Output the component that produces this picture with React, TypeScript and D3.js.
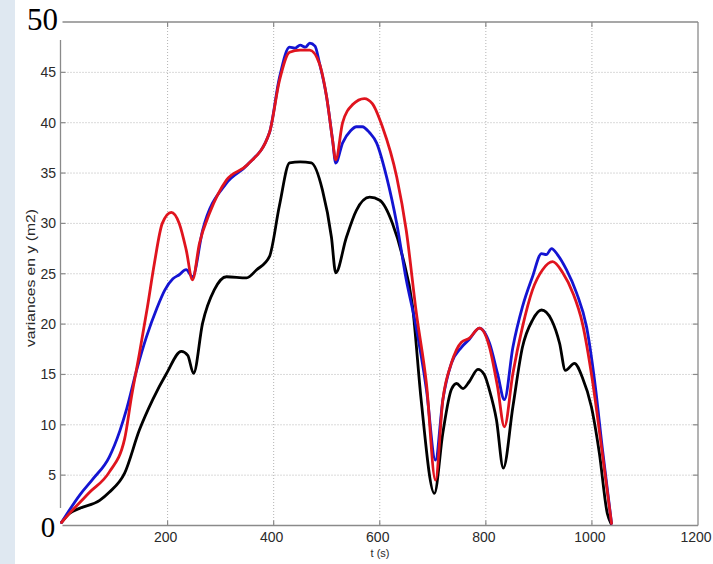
import React from "react";
import * as d3 from "d3";

const blackT = [0, 15, 34, 72, 90, 119, 147, 172, 198, 226, 238, 249, 266, 288, 311, 349, 368, 392, 411, 430, 450, 471, 492, 509, 517, 537, 556, 581, 600, 624, 643, 662, 678, 703, 719, 735, 745, 757, 769, 785, 797, 807, 820, 833, 851, 869, 888, 905, 924, 939, 950, 967, 982, 999, 1014, 1029, 1036];
const blackV = [0.3, 1.2, 1.7, 2.5, 3.3, 5.2, 9.5, 12.5, 15.1, 17.3, 16.9, 15.1, 20.1, 23.4, 24.7, 24.6, 25.4, 26.7, 31.8, 36.0, 36.1, 36.0, 33.3, 28.6, 25.1, 28.6, 31.3, 32.6, 32.3, 30.0, 26.7, 21.7, 12.5, 3.2, 9.2, 13.5, 14.1, 13.6, 14.3, 15.5, 15.0, 13.4, 10.5, 5.7, 11.8, 17.7, 20.4, 21.4, 20.4, 18.1, 15.4, 16.1, 14.7, 11.8, 7.2, 1.2, 0.2];

const redT = [0, 15, 53, 90, 119, 132, 147, 162, 175, 190, 207, 222, 235, 247, 260, 279, 311, 350, 392, 411, 430, 450, 468, 486, 500, 511, 517, 530, 549, 571, 586, 605, 632, 650, 669, 688, 705, 719, 735, 754, 769, 788, 807, 822, 835, 851, 869, 888, 907, 926, 945, 964, 982, 1001, 1018, 1037];
const redV = [0.3, 1.2, 3.3, 5.3, 8.6, 12.8, 17.1, 21.7, 26.0, 30.0, 31.1, 30.0, 27.4, 24.4, 28.0, 31.0, 34.3, 35.8, 39.0, 44.2, 47.0, 47.2, 47.2, 45.9, 42.5, 38.3, 36.3, 40.0, 41.8, 42.4, 41.9, 39.6, 34.6, 29.3, 21.1, 14.1, 4.5, 12.5, 16.1, 18.2, 18.6, 19.6, 17.7, 13.8, 9.8, 15.1, 19.7, 23.4, 25.4, 26.2, 25.1, 23.1, 20.1, 14.4, 7.8, 0.2];

const blueT = [0, 34, 59, 90, 110, 123, 141, 160, 180, 195, 210, 222, 235, 247, 266, 311, 350, 392, 411, 430, 440, 450, 460, 468, 478, 486, 500, 511, 517, 530, 545, 556, 567, 581, 594, 613, 632, 650, 666, 688, 705, 719, 735, 754, 769, 788, 807, 822, 835, 851, 869, 888, 905, 914, 924, 935, 952, 971, 990, 1005, 1020, 1037];
const blueV = [0.3, 3.0, 4.6, 6.8, 9.4, 11.6, 15.3, 18.7, 21.6, 23.4, 24.5, 24.9, 25.4, 24.7, 29.3, 34.0, 35.8, 39.0, 44.5, 47.5, 47.4, 47.7, 47.5, 47.9, 47.6, 46.0, 42.5, 38.3, 36.0, 38.0, 39.2, 39.6, 39.6, 39.0, 38.0, 34.6, 30.0, 24.4, 20.4, 13.5, 6.5, 12.5, 16.1, 17.7, 18.5, 19.6, 18.1, 15.1, 12.5, 17.7, 21.7, 24.7, 27.0, 26.9, 27.5, 26.9, 25.4, 23.1, 19.7, 14.4, 7.5, 0.2];

const xTicks = [200, 400, 600, 800, 1000, 1200];
const yTicks = [5, 10, 15, 20, 25, 30, 35, 40, 45];
const xLabel = "t (s)";
const yLabel = "variances en y (m2)";

const W = 713;
const H = 564;

export default function App() {
  const x = d3.scaleLinear().domain([0, 1200]).range([61.5, 698]);
  const y = d3.scaleLinear().domain([0, 50]).range([525.5, 22]);
  const line = (ts: number[], vs: number[]) =>
    d3
      .line<number>()
      .x((_, i) => x(ts[i]))
      .y((v) => y(v))
      .curve(d3.curveMonotoneX)(vs) || "";

  const axisColor = "#8a8a8a";
  const gridColor = "#b4b4b4";
  const font = "'Liberation Sans', Arial, Helvetica, sans-serif";
  const series = [
    { t: blackT, v: blackV, c: "#000000" },
    { t: blueT, v: blueV, c: "#1414d2" },
    { t: redT, v: redV, c: "#e0141e" },
  ];

  return (
    <svg
      width={W}
      height={H}
      style={{ position: "absolute", left: 0, top: 0, background: "#fff" }}
    >
      <rect x={0} y={0} width={W} height={H} fill="#ffffff" />
      <rect x={0} y={0} width={15} height={H} fill="#dfe8f1" />

      {/* grid */}
      {xTicks.slice(0, -1).map((t) => (
        <line key={"gx" + t} x1={x(t)} x2={x(t)} y1={y(50)} y2={y(0)} stroke={gridColor} strokeWidth={1} strokeDasharray="1 2" />
      ))}
      {yTicks.map((v) => (
        <line key={"gy" + v} x1={x(0)} x2={x(1200)} y1={y(v)} y2={y(v)} stroke={gridColor} strokeWidth={1} strokeDasharray="1 2" />
      ))}

      {/* box */}
      <line x1={x(0) + 1} x2={x(1200)} y1={y(50)} y2={y(50)} stroke={axisColor} strokeWidth={1.3} />
      <line x1={x(1200)} x2={x(1200)} y1={y(50)} y2={y(0)} stroke={axisColor} strokeWidth={1.3} />
      <line x1={x(0) + 1} x2={x(1200)} y1={y(0)} y2={y(0)} stroke={axisColor} strokeWidth={1.3} />
      <line x1={x(0) - 1} x2={x(0) - 1} y1={40} y2={508} stroke={axisColor} strokeWidth={1.3} />

      {/* ticks */}
      {xTicks.slice(0, -1).map((t) => (
        <g key={"tx" + t}>
          <line x1={x(t)} x2={x(t)} y1={y(0)} y2={y(0) - 5} stroke={axisColor} strokeWidth={1.2} />
          <line x1={x(t)} x2={x(t)} y1={y(50)} y2={y(50) + 5} stroke={axisColor} strokeWidth={1.2} />
        </g>
      ))}
      {yTicks.map((v) => (
        <g key={"ty" + v}>
          <line x1={x(0) - 1} x2={x(0) + 4} y1={y(v)} y2={y(v)} stroke={axisColor} strokeWidth={1.2} />
          <line x1={x(1200) - 5} x2={x(1200)} y1={y(v)} y2={y(v)} stroke={axisColor} strokeWidth={1.2} />
        </g>
      ))}

      {/* series */}
      {series.map((s, i) => (
        <path key={"s" + i} d={line(s.t, s.v)} fill="none" stroke={s.c} strokeWidth={2.8} strokeLinejoin="round" strokeLinecap="round" />
      ))}

      {/* tick labels */}
      {xTicks.map((t) => (
        <text key={"lx" + t} x={x(t) - 2} y={542} textAnchor="middle" fontFamily={font} fontSize={14} fill="#2a2a2a">
          {t}
        </text>
      ))}
      {yTicks.map((v) => (
        <text key={"ly" + v} x={56} y={y(v)} dy="0.35em" textAnchor="end" fontFamily={font} fontSize={14} fill="#2a2a2a">
          {v}
        </text>
      ))}

      <text x={380} y={557} textAnchor="middle" fontFamily={font} fontSize={11} fill="#2a2a2a">
        {xLabel}
      </text>
      <text
        transform="translate(35,278) rotate(-90)"
        textAnchor="middle"
        fontFamily={font}
        fontSize={13}
        textLength={138}
        lengthAdjust="spacingAndGlyphs"
        fill="#2a2a2a"
      >
        {yLabel}
      </text>

      {/* overlaid large labels */}
      <text x={58} y={30} textAnchor="end" fontFamily="'Liberation Serif', 'Times New Roman', serif" fontSize={31} fill="#000">
        50
      </text>
      <text x={48} y={537} textAnchor="middle" fontFamily="'Liberation Serif', 'Times New Roman', serif" fontSize={29} fill="#000">
        0
      </text>
    </svg>
  );
}
